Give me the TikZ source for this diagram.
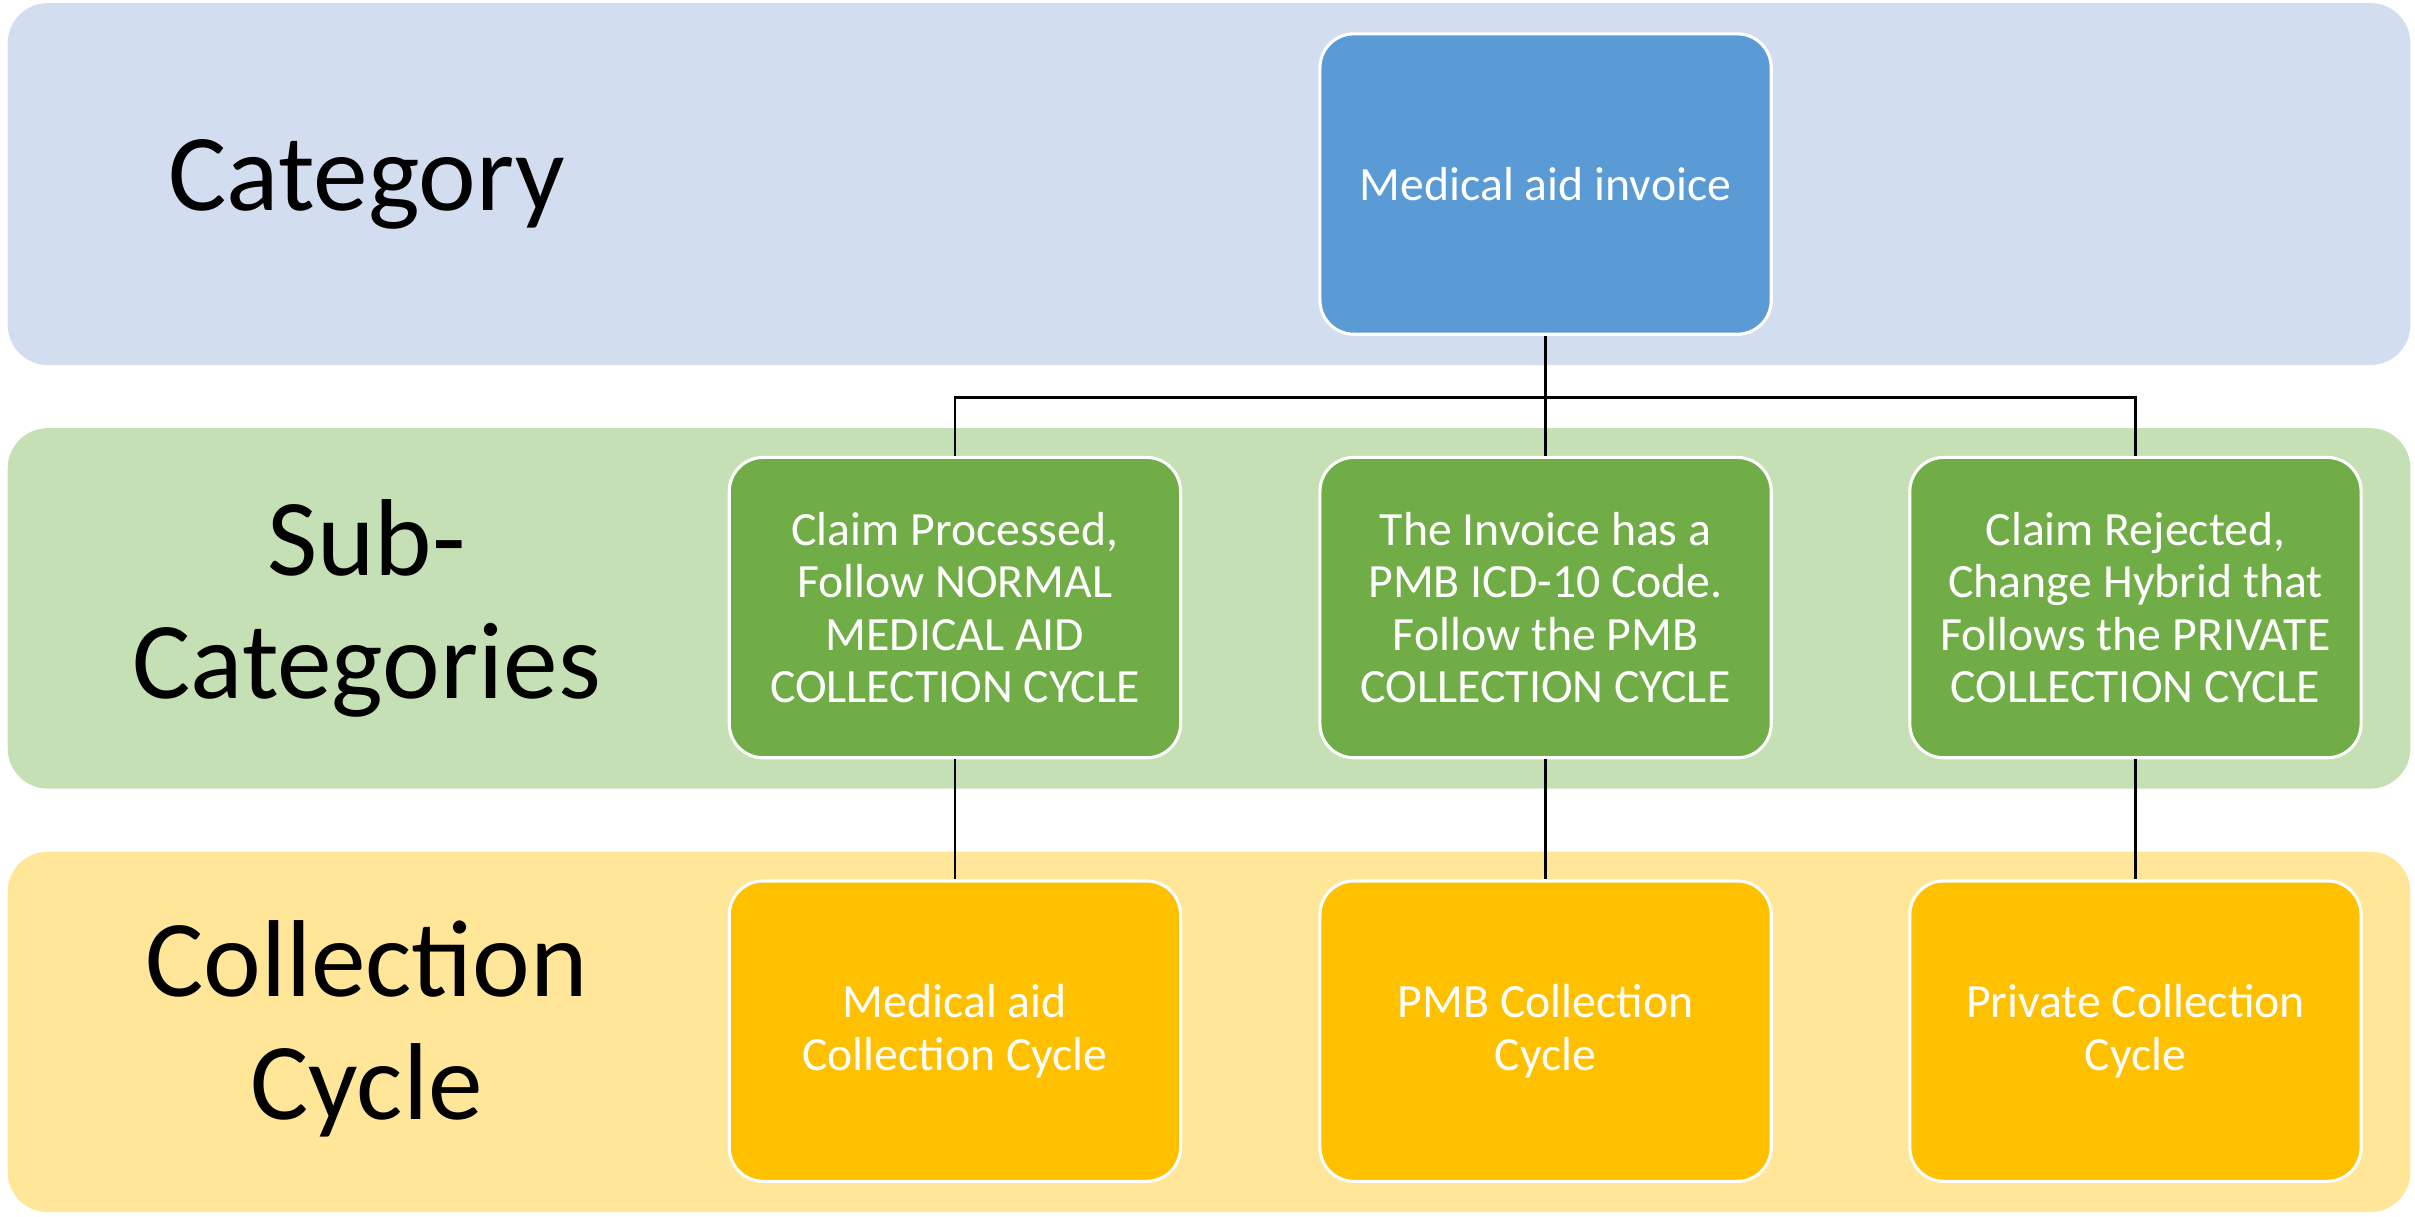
\documentclass[tikz,border=0pt]{standalone}
\usepackage{fontspec}
\setmainfont{Carlito}
\definecolor{bandblue}{HTML}{D2DEEF}
\definecolor{bandgreen}{HTML}{C5E0B4}
\definecolor{bandyellow}{HTML}{FFE699}
\definecolor{boxblue}{HTML}{5B9BD5}
\definecolor{boxgreen}{HTML}{70AD47}
\definecolor{boxyellow}{HTML}{FFC000}
\begin{document}
\begin{tikzpicture}[x=0.5pt,y=-0.5pt,
  band/.style={rounded corners=13pt},
  bandlabel/.style={align=center,font=\fontsize{35.5}{40}\selectfont,text=black,inner sep=0pt},
  item/.style={draw=white,line width=1pt,rounded corners=11pt,minimum width=146.5pt,minimum height=97.5pt,
    align=center,text=white,font=\fontsize{15.5}{17}\selectfont,inner sep=0pt},
  link/.style={draw=black,line width=0.8pt}]
\useasboundingbox (0,0) rectangle (1568,790);
\fill[band,bandblue] (5,2) rectangle (1565,237);
\fill[band,bandgreen] (5,278) rectangle (1565,512);
\fill[band,bandyellow] (5,553) rectangle (1565,787);
\node[bandlabel] (lcat) at (238,120) {Category};
\node[bandlabel] (lsub) at (238,395) {Sub-\\Categories};
\node[bandlabel] (lcol) at (238,668) {Collection\\Cycle};
\node[item,fill=boxblue] (top) at (1003.5,119.5) {Medical aid invoice};
\node[item,fill=boxgreen] (s1) at (620,394.5) {Claim Processed,\\Follow NORMAL\\MEDICAL AID\\COLLECTION CYCLE};
\node[item,fill=boxgreen] (s2) at (1003.5,394.5) {The Invoice has a\\PMB ICD-10 Code.\\Follow the PMB\\COLLECTION CYCLE};
\node[item,fill=boxgreen] (s3) at (1386.5,394.5) {Claim Rejected,\\Change Hybrid that\\Follows the PRIVATE\\COLLECTION CYCLE};
\node[item,fill=boxyellow] (b1) at (620,669.5) {Medical aid\\Collection Cycle};
\node[item,fill=boxyellow] (b2) at (1003.5,669.5) {PMB Collection\\Cycle};
\node[item,fill=boxyellow] (b3) at (1386.5,669.5) {Private Collection\\Cycle};
\coordinate (j) at (1003.5,258);
\draw[link] (top.south) -- (j);
\draw[link] (j) -| (s1.north);
\draw[link] (j) -- (s2.north);
\draw[link] (j) -| (s3.north);
\draw[link] (s1.south) -- (b1.north);
\draw[link] (s2.south) -- (b2.north);
\draw[link] (s3.south) -- (b3.north);
\end{tikzpicture}
\end{document}
